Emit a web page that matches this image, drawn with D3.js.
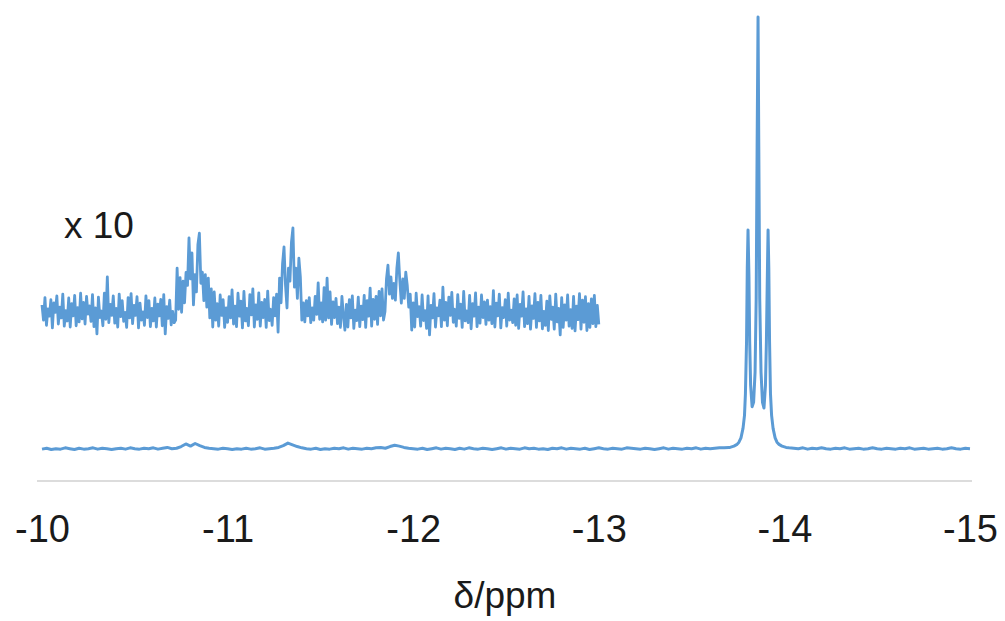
<!DOCTYPE html>
<html>
<head>
<meta charset="utf-8">
<script src="https://cdn.jsdelivr.net/npm/d3@7"></script>
<style>
  html, body { margin: 0; padding: 0; background: #ffffff; }
  svg { display: block; }
  text { font-family: "Liberation Sans", Arial, sans-serif; fill: #1a1a1a; }
</style>
</head>
<body>
<svg id="chart" width="1005" height="621"></svg>
<script>
// ---------------- DATA ----------------
const xTicks = [-10, -11, -12, -13, -14, -15];
const xLabel = "δ/ppm";
const insetLabel = "x 10";

// Main spectrum, baseline part left of the signal (evenly sampled -10.000 .. -13.700 ppm)
const baseLeftRange = [-10.0, -13.7];
const baseLeftInt = [
  2,4,1,3,2,5,3,1,4,2,3,5,2,4,3,1,3,4,2,5,3,2,4,3,5,2,4,6,3,4,
  8,14,9,15,10,6,4,
  3,2,4,3,1,3,2,4,2,3,5,2,3,4,6,
  10,16,12,8,5,
  3,2,4,1,3,2,4,3,5,2,4,3,2,4,3,5,6,4,
  8,11,9,6,4,
  3,2,4,1,3,5,2,4,3,1,4,2,5,3,2,4,3,1,3,5,2,4,3,2,5,3,4,2,3,1,
  4,3,5,2,4,3,2,4,1,3,5,3,2,4,3,2,5,4,3,2,4,3,1,3,5,2,4,3,2,4,
  3,5,2,4,3,4,5,5,6
];

// Main spectrum, the triplet near -13.86 ppm
const peakPpm = [
  -13.707,-13.728,-13.745,-13.755,-13.766,-13.777,-13.785,-13.790,-13.796,-13.800,
  -13.804,-13.809,-13.813,-13.818,-13.826,-13.834,-13.842,-13.848,-13.853,-13.858,
  -13.862,-13.867,-13.874,-13.882,-13.890,-13.898,-13.903,-13.908,-13.912,-13.916,
  -13.920,-13.925,-13.931,-13.939,-13.950,-13.960,-13.971,-13.987,-14.009
];
const peakInt = [
  6,9,13,18,28,50,80,130,250,420,
  508,400,250,150,100,110,180,350,700,1000,
  700,350,180,110,97,150,250,400,508,420,
  250,130,80,50,28,18,13,9,6
];

// Main spectrum, baseline right of the signal (evenly sampled -14.025 .. -15.000 ppm)
const baseRightRange = [-14.025, -15.0];
const baseRightInt = [
  5,4,3,5,2,4,3,5,3,2,4,3,5,2,3,4,2,3,5,3,
  2,4,3,2,4,3,5,2,3,4,2,3,4,2,3,5,3,2,4,3
];

// Expanded (x10, offset) trace, evenly sampled -10.000 .. -13.000 ppm
const insetRange = [-10.0, -13.0];
const insetInt = [
  335,300,352,288,326,309,347,282,340,318,
  356,291,330,305,360,286,322,298,351,284,
  338,310,357,287,329,296,362,303,341,291,
  355,314,333,297,359,285,328,268,353,306,
  321,287,362,302,400,294,336,311,356,293,
  327,284,360,308,345,297,318,283,352,305,
  361,292,334,311,354,282,339,300,319,288,
  356,306,345,285,327,298,351,284,337,310,
  348,287,359,268,331,304,346,289,320,294,
  300,420,325,398,318,390,340,410,380,490,
  395,455,335,405,365,475,501,385,411,345,
  405,330,397,305,372,284,
  365,300,338,286,358,311,347,283,328,295,
  354,305,370,291,332,285,362,309,344,282,
  366,298,327,287,359,312,372,284,335,302,
  363,286,341,306,348,283,367,299,325,288,
  352,310,360,272,
  397,340,430,469,380,328,420,390,480,513,
  376,420,350,443,400,300,340,296,
  345,310,352,294,328,300,355,313,386,302,340,296,375,
  300,397,305,365,
  290,342,306,350,292,330,283,355,311,277,
  336,284,347,305,356,281,323,299,353,285,
  332,301,357,283,345,309,374,286,348,302,
  355,290,366,310,372,300,
  320,395,427,360,400,350,385,346,420,455,
  390,339,395,350,411,380,330,360,277,
  340,284,362,308,331,286,358,299,322,281,
  356,266,334,305,361,284,328,310,346,285,
  376,300,341,287,353,311,364,295,325,286,
  359,304,337,283,366,298,321,294,357,280,
  338,309,363,285,330,293,358,306,342,290,
  346,300,331,292,368,284,339,310,360,282,
  329,306,347,286,362,300,323,294,349,288,
  358,281,336,309,365,285,326,292,355,279,
  333,304,361,283,341,298,357,280,320,288,
  344,276,356,302,330,279,360,296,327,266,
  352,283,335,300,358,286,324,281,355,275,
  332,301,361,279,346,295,354,276,338,283,
  349,292,357,285,334,290
];

// ---------------- BUILD SERIES ----------------
function sampled(range, vals) {
  const idx = d3.scaleLinear().domain([0, vals.length - 1]).range(range);
  return vals.map((v, i) => ({ ppm: idx(i), v }));
}
const mainSeries = sampled(baseLeftRange, baseLeftInt)
  .concat(peakPpm.map((p, i) => ({ ppm: p, v: peakInt[i] })))
  .concat(sampled(baseRightRange, baseRightInt));
const insetSeries = sampled(insetRange, insetInt);

// ---------------- DRAW ----------------
const svg = d3.select("#chart");
const x = d3.scaleLinear().domain([-10, -15]).range([42, 970]);
const y = d3.scaleLinear().domain([0, 1000]).range([450, 17]);
const axisY = 481;
const lineColor = "#5b9bd5";

// axis line
svg.append("line")
  .attr("x1", x(-10) - 5).attr("x2", x(-15) + 2)
  .attr("y1", axisY).attr("y2", axisY)
  .attr("stroke", "#d0d0d0").attr("stroke-width", 1.3);

// tick labels
const axis = d3.axisBottom(x)
  .tickValues(xTicks)
  .tickSize(0)
  .tickPadding(34)
  .tickFormat(d => String(d));
const gAxis = svg.append("g").attr("transform", `translate(0,${axisY})`).call(axis);
gAxis.select(".domain").remove();
gAxis.selectAll("text")
  .attr("font-size", 38)
  .attr("font-family", "Liberation Sans, Arial, sans-serif")
  .attr("fill", "#1a1a1a");

// axis title
svg.append("text")
  .attr("x", (x(-10) + x(-15)) / 2 - 1)
  .attr("y", 608)
  .attr("text-anchor", "middle")
  .attr("font-size", 37)
  .text(xLabel);

const line = d3.line().x(d => x(d.ppm)).y(d => y(d.v));

// main spectrum
svg.append("path")
  .datum(mainSeries)
  .attr("fill", "none")
  .attr("stroke", lineColor)
  .attr("stroke-width", 3)
  .attr("stroke-linejoin", "round")
  .attr("d", line);

// expanded trace
svg.append("path")
  .datum(insetSeries)
  .attr("fill", "none")
  .attr("stroke", lineColor)
  .attr("stroke-width", 2.8)
  .attr("stroke-linejoin", "round")
  .attr("d", line);

// inset label
svg.append("text")
  .attr("x", 64)
  .attr("y", 238)
  .attr("font-size", 37)
  .text(insetLabel);
</script>
</body>
</html>
